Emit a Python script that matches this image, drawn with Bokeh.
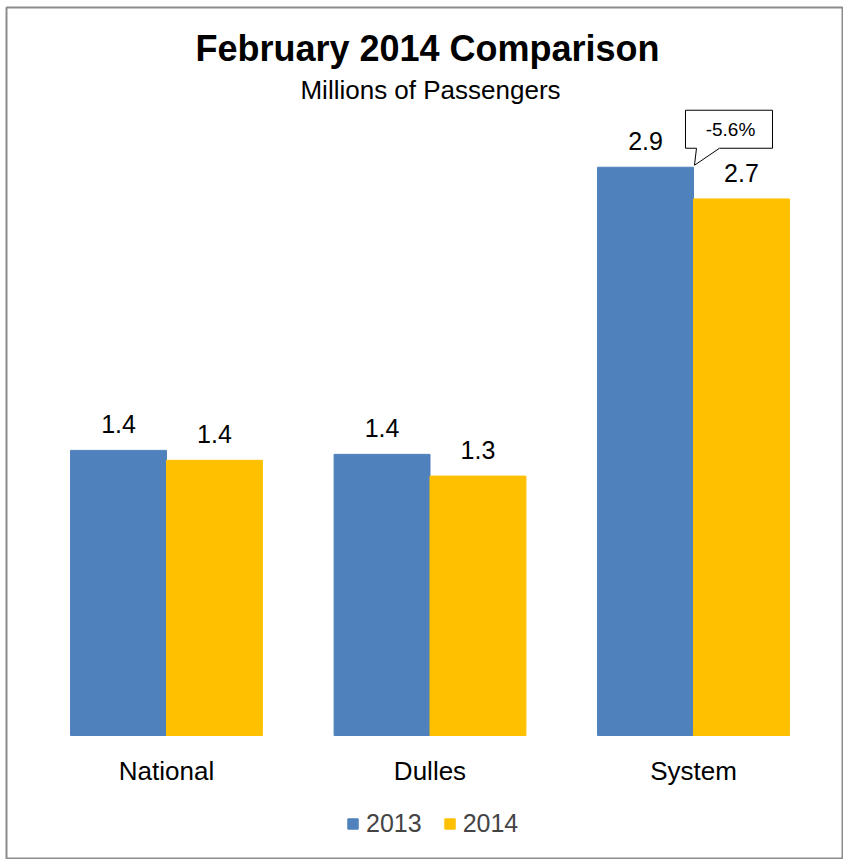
import numpy as np
from bokeh.plotting import figure
from bokeh.models import Range1d, Label, Legend, LegendItem
from bokeh.core.properties import value
from bokeh.embed import file_html
from bokeh.resources import INLINE

# ---- data ----
categories = ["National", "Dulles", "System"]
years = ["2013", "2014"]
passengers_2013 = [1.44, 1.42, 2.87]
passengers_2014 = [1.39, 1.31, 2.71]
title_text = "February 2014 Comparison"
subtitle_text = "Millions of Passengers"

# ---- style ----
colors = ["#4F81BD", "#FFC000"]
FONT = "Liberation Sans"
FW, FH = 837, 851            # frame size
W, H = 843, 859              # figure size
x_start, x_end = -0.1072, 3.0693
y_start, y_end = -0.6212, 3.6768
bar_w = 0.364

p = figure(width=W, height=H,
           x_range=Range1d(x_start, x_end), y_range=Range1d(y_start, y_end),
           output_backend="svg", toolbar_location=None,
           x_axis_location=None, y_axis_location=None,
           min_border_left=6, min_border_top=7, min_border_right=0,
           min_border_bottom=1)
p.grid.visible = False
p.outline_line_color = "#8c8c8c"
p.outline_line_width = 2
p.background_fill_color = "white"
p.border_fill_color = "white"

xc = np.arange(len(categories)) + 0.5
x13 = xc - bar_w / 2
x14 = xc + bar_w / 2

r13 = p.vbar(x=x13, top=passengers_2013, bottom=0, width=bar_w,
             fill_color=colors[0], line_color=colors[0])
r14 = p.vbar(x=x14, top=passengers_2014, bottom=0, width=bar_w,
             fill_color=colors[1], line_color=colors[1])

# data labels
p.text(x=x13, y=passengers_2013, text=[f"{v:.1f}" for v in passengers_2013],
       y_offset=-26, text_align="center", text_baseline="alphabetic",
       text_font=value(FONT), text_font_size="25px", text_color="black")
p.text(x=x14, y=passengers_2014, text=[f"{v:.1f}" for v in passengers_2014],
       y_offset=-26, text_align="center", text_baseline="alphabetic",
       text_font=value(FONT), text_font_size="25px", text_color="black")

# category labels
p.text(x=xc, y=[0] * len(categories), text=categories,
       y_offset=35, text_align="center", text_baseline="alphabetic",
       text_font=value(FONT), text_font_size="26px", text_color="black")

# callout with percent change for System
kx = (x_end - x_start) / FW
ky = (y_end - y_start) / FH
tip_x = xc[2]
tip_y = passengers_2013[2]
pct = (passengers_2014[2] / passengers_2013[2] - 1) * 100
offs = [(-8, 19), (-8, 57), (79, 57), (79, 19), (26, 19), (1, 2), (3, 19)]
p.patch([tip_x + dx * kx for dx, dy in offs], [tip_y + dy * ky for dx, dy in offs],
        fill_color="white", line_color="black", line_width=1)
p.text(x=[tip_x], y=[tip_y], text=[f"{pct:.1f}%"], x_offset=37, y_offset=-38,
       text_align="center", text_baseline="middle",
       text_font=value(FONT), text_font_size="19px", text_color="black")

# titles
p.add_layout(Label(x=421, y=810, x_units="screen", y_units="screen", text=title_text,
                   text_align="center", text_baseline="alphabetic",
                   text_font=FONT, text_font_size="36px", text_font_style="bold",
                   text_color="black"))
p.add_layout(Label(x=424, y=769, x_units="screen", y_units="screen", text=subtitle_text,
                   text_align="center", text_baseline="alphabetic",
                   text_font=FONT, text_font_size="26px", text_color="black"))

legend = Legend(items=[LegendItem(label=years[0], renderers=[r13]),
                       LegendItem(label=years[1], renderers=[r14])],
                location=(340, 20), orientation="horizontal",
                glyph_width=13, glyph_height=13, label_standoff=7, spacing=21,
                padding=0, margin=0, border_line_color=None,
                background_fill_alpha=0,
                label_text_font=FONT, label_text_font_size="25px",
                label_height=26)
p.add_layout(legend)

open("out.html", "w").write(file_html(p, INLINE))
